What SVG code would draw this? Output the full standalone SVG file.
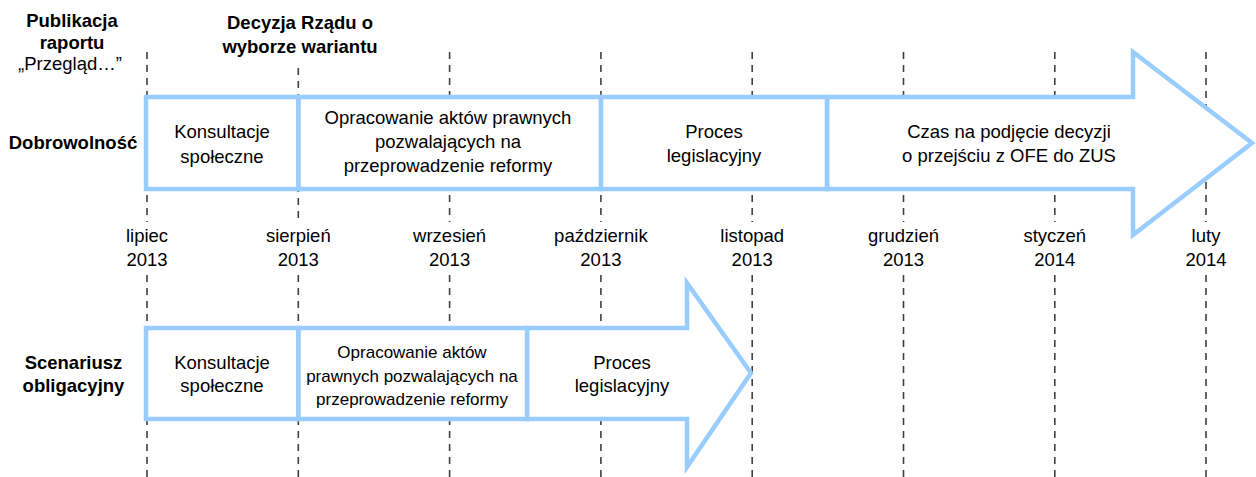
<svg xmlns="http://www.w3.org/2000/svg" width="1256" height="477" viewBox="0 0 1256 477">
<style>
text{font-family:"Liberation Sans",Arial,sans-serif;font-size:18.5px;fill:#000;text-anchor:middle}
.b{font-weight:bold}
.sm{font-size:17px}
.box{fill:#fff;stroke:#99CCFF;stroke-width:4.5;stroke-linejoin:miter}
.grid line{stroke:#404040;stroke-width:1.6;stroke-dasharray:7 6}
</style>
<rect width="1256" height="477" fill="#fff"/>
<g id="connectors" class="grid">
<line x1="147" y1="52" x2="147" y2="222"/><line x1="147" y1="275" x2="147" y2="477"/>
<line x1="298.3" y1="68" x2="298.3" y2="222"/><line x1="298.3" y1="275" x2="298.3" y2="477"/>
<line x1="449.6" y1="52" x2="449.6" y2="222"/><line x1="449.6" y1="275" x2="449.6" y2="477"/>
<line x1="600.9" y1="52" x2="600.9" y2="222"/><line x1="600.9" y1="275" x2="600.9" y2="477"/>
<line x1="752.2" y1="52" x2="752.2" y2="222"/><line x1="752.2" y1="275" x2="752.2" y2="477"/>
<line x1="903.5" y1="52" x2="903.5" y2="222"/><line x1="903.5" y1="275" x2="903.5" y2="477"/>
<line x1="1054.8" y1="52" x2="1054.8" y2="222"/><line x1="1054.8" y1="275" x2="1054.8" y2="477"/>
<line x1="1206" y1="52" x2="1206" y2="222"/><line x1="1206" y1="275" x2="1206" y2="477"/>
</g>
<g id="milestone-publikacja">
<text class="b" x="72" y="27">Publikacja</text>
<text class="b" x="72" y="48.5">raportu</text>
<text x="70" y="70">„Przegląd…”</text>
</g>
<g id="milestone-decyzja">
<text class="b" x="300" y="29">Decyzja Rządu o</text>
<text class="b" x="300" y="53">wyborze wariantu</text>
</g>
<g id="months">
<text x="147" y="242">lipiec</text><text x="147" y="266">2013</text>
<text x="298.3" y="242">sierpień</text><text x="298.3" y="266">2013</text>
<text x="449.6" y="242">wrzesień</text><text x="449.6" y="266">2013</text>
<text x="600.9" y="242">październik</text><text x="600.9" y="266">2013</text>
<text x="752.2" y="242">listopad</text><text x="752.2" y="266">2013</text>
<text x="903.5" y="242">grudzień</text><text x="903.5" y="266">2013</text>
<text x="1054.8" y="242">styczeń</text><text x="1054.8" y="266">2014</text>
<text x="1206" y="242">luty</text><text x="1206" y="266">2014</text>
</g>
<g id="label-dobrowolnosc"><text class="b" x="73" y="149">Dobrowolność</text></g>
<g id="d-czas">
<polygon class="box" points="827,97 1133,97 1133,52 1252,143 1133,235 1133,189 827,189"/>
<text x="1009" y="137.5">Czas na podjęcie decyzji</text>
<text x="1009" y="162">o przejściu z OFE do ZUS</text>
</g>
<g id="d-proces">
<rect class="box" x="600.9" y="97" width="226.1" height="92"/>
<text x="714" y="137.5">Proces</text>
<text x="714" y="162">legislacyjny</text>
</g>
<g id="d-opracowanie">
<rect class="box" x="298.3" y="97" width="302.6" height="92"/>
<text x="448" y="123.5">Opracowanie aktów prawnych</text>
<text x="448" y="148">pozwalających na</text>
<text x="448" y="172">przeprowadzenie reformy</text>
</g>
<g id="d-konsultacje">
<rect class="box" x="146" y="97" width="152.3" height="92"/>
<text x="222" y="138">Konsultacje</text>
<text x="222" y="163">społeczne</text>
</g>
<g id="label-scenariusz">
<text class="b" x="73.5" y="368.5">Scenariusz</text>
<text class="b" x="73.5" y="392">obligacyjny</text>
</g>
<g id="o-proces">
<polygon class="box" points="527,328 687,328 687,283 751,373 687,467 687,419 527,419"/>
<text x="622" y="368.5">Proces</text>
<text x="622" y="392">legislacyjny</text>
</g>
<g id="o-opracowanie">
<rect class="box" x="298.3" y="328" width="228.7" height="91"/>
<text class="sm" x="412" y="357.5">Opracowanie aktów</text>
<text class="sm" x="412" y="381.5">prawnych pozwalających na</text>
<text class="sm" x="412" y="404.5">przeprowadzenie reformy</text>
</g>
<g id="o-konsultacje">
<rect class="box" x="146" y="328" width="152.3" height="91"/>
<text x="222" y="368.5">Konsultacje</text>
<text x="222" y="392">społeczne</text>
</g>
</svg>
